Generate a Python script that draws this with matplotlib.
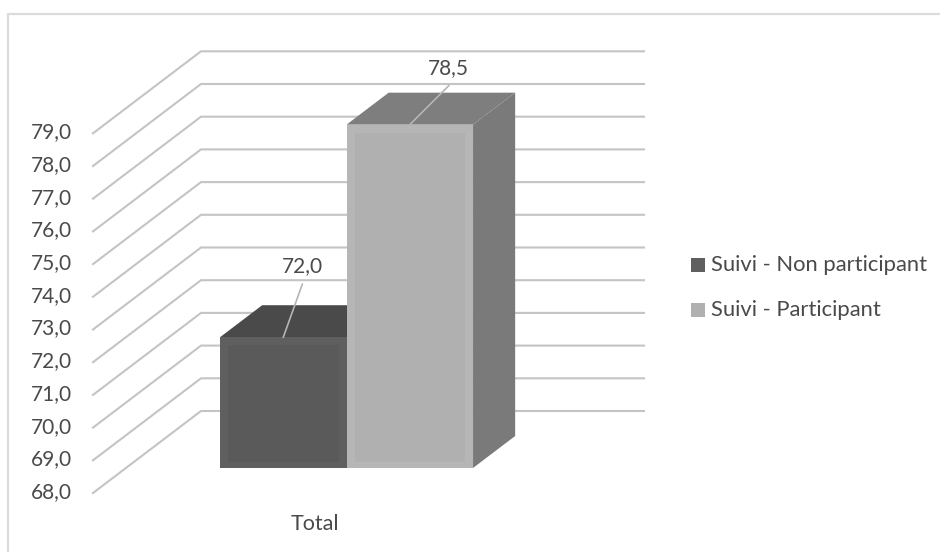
import matplotlib
matplotlib.use('Agg')
import matplotlib.pyplot as plt
from matplotlib.patches import Polygon, Rectangle

plt.rcParams['font.family'] = ['Lato', 'DejaVu Sans']

categories = ['Total']
series_names = ['Suivi - Non participant', 'Suivi - Participant']
series_values = [72.0, 78.5]
value_labels = ['72,0', '78,5']
y_ticks = [68, 69, 70, 71, 72, 73, 74, 75, 76, 77, 78, 79]
y_tick_labels = ['68,0', '69,0', '70,0', '71,0', '72,0', '73,0', '74,0', '75,0', '76,0', '77,0', '78,0', '79,0']

front_colors = ['#5a5a5a', '#b0b0b0']
edge_colors = ['#5f5f5f', '#b6b6b6']
legend_colors = ['#5f5f5f', '#b0b0b0']
top_colors = ['#4a4a4a', '#7e7e7e']
side_colors = ['#4a4a4a', '#7a7a7a']
grid_color = '#c4c4c4'
text_color = '#4a4a4a'

# oblique projection of the 3d box, everything ends up in figure pixels
X0, X1 = 93, 536
Y_MIN, UNIT = 493, 32.7
DX, DY = 108, 82


def project(x, value, depth=0.0):
    return X0 + x * (X1 - X0) + DX * depth, Y_MIN - UNIT * (value - y_ticks[0]) - DY * depth


fig = plt.figure(figsize=(9.4, 5.52), dpi=100)
ax = fig.add_axes([0, 0, 1, 1])
ax.set_xlim(0, 940)
ax.set_ylim(552, 0)
ax.axis('off')

# chart frame, only the top and left sides show
ax.plot([7.5, 7.5, 940], [552, 13.5, 13.5], color='#dcdcdc', lw=1.6, solid_joinstyle='miter')

# walls: gridlines on the side wall and the back wall
for v, lab in zip(y_ticks, y_tick_labels):
    ax.plot(*zip(project(0, v), project(0, v, 1), project(1, v, 1)), color=grid_color, lw=1.5, zorder=1,
            solid_joinstyle='miter')
    px, py = project(0, v)
    ax.text(px - 21, py - 1, lab, ha='right', va='center', fontsize=15, color=text_color)

# bars, a group of two centred in the category
bar_w = 0.2855
d0, d1 = 0.305, 0.695
n = len(series_values)
left = 0.5 - bar_w * n / 2 - 0.002
for i, val in enumerate(series_values):
    a = left + i * bar_w
    b = a + bar_w
    base = y_ticks[0]
    side = [project(b, base, d0), project(b, base, d1), project(b, val, d1), project(b, val, d0)]
    top = [project(a, val, d0), project(a, val, d1), project(b, val, d1), project(b, val, d0)]
    front = [project(a, base, d0), project(b, base, d0), project(b, val, d0), project(a, val, d0)]
    ax.add_patch(Polygon(side, fc=side_colors[i], ec='none', zorder=2 + i))
    ax.add_patch(Polygon(top, fc=top_colors[i], ec='none', zorder=2 + i))
    ax.add_patch(Polygon(front, fc=edge_colors[i], ec='none', zorder=2 + i))
    # soft bevel inside the front face
    (fx0, fy0), (fx1, _), (_, fy1), _ = front
    ax.add_patch(Rectangle((fx0 + 8, fy1 + 8), fx1 - fx0 - 16, fy0 - fy1 - 14, fc=front_colors[i], ec='none',
                           zorder=2 + i))

    # value label with its leader line
    ax_mid = (a + b) / 2
    sx, sy = project(ax_mid, val, d0)
    ex, ey = (sx + 19, sy - 53) if i == 0 else (sx + 39, sy - 39)
    ax.plot([sx, ex], [sy, ey], color='#b5b5b5', lw=1.2, zorder=5)
    ax.text(ex, ey - 18, value_labels[i], ha='center', va='center', fontsize=15, color=text_color, zorder=6)

ax.text(project(0.5, y_ticks[0])[0], 524, categories[0], ha='center', va='center', fontsize=15.5, color=text_color)

# legend
for (name, c, ly) in zip(series_names, legend_colors, [265, 310]):
    ax.add_patch(Rectangle((691, ly - 7), 14, 14, fc=c, ec='none'))
    ax.text(711, ly, name, ha='left', va='center', fontsize=15.8, color=text_color)

fig.savefig('out.png', dpi=100)
